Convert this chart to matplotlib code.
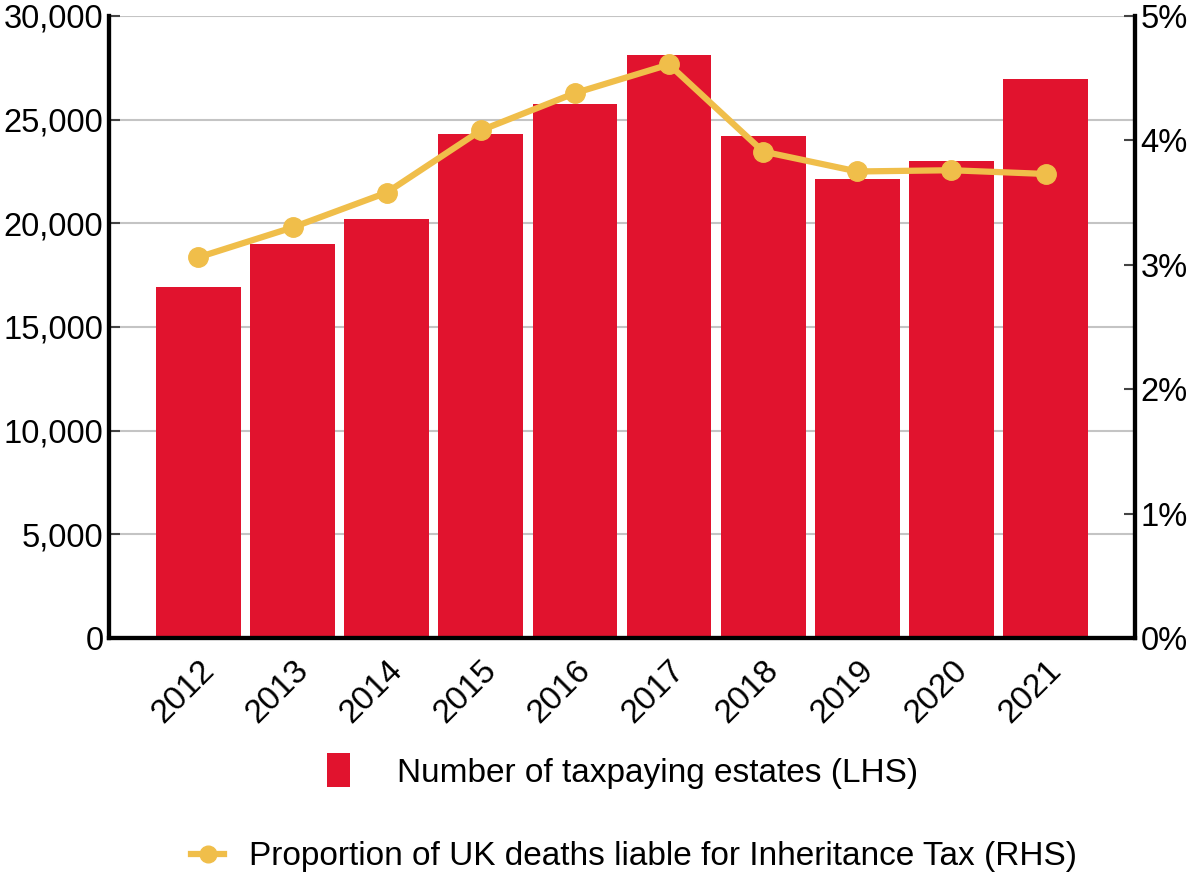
import numpy as np
import matplotlib.pyplot as plt
from matplotlib.lines import Line2D
from matplotlib.patches import Patch

plt.rcParams['font.family'] = ['Liberation Sans', 'DejaVu Sans']

years = ['2012', '2013', '2014', '2015', '2016', '2017', '2018', '2019', '2020', '2021']
estates = [16930, 19000, 20200, 24300, 25750, 28120, 24210, 22140, 23000, 26960]
share_pct = [3.06, 3.30, 3.58, 4.08, 4.38, 4.61, 3.91, 3.75, 3.76, 3.73]

red = '#E1132E'
gold = '#F0BE4A'

fig = plt.figure(figsize=(11.92, 8.77), dpi=100)
ax = fig.add_axes([0.0914, 0.2725, 0.8608, 0.7093])
x = np.arange(len(years))

ax.bar(x, estates, width=0.9, color=red, zorder=2)
ax.set_xlim(-0.95, 9.95)
ax.set_ylim(0, 30000)
ax.set_yticks(range(0, 30001, 5000))
ax.set_yticklabels([f'{v:,}' for v in range(0, 30001, 5000)])
ax.yaxis.grid(True, color='#C4C4C4', linewidth=1.5, zorder=0)
ax.set_axisbelow(True)
ax.set_xticks(x)
ax.set_xticklabels(years, rotation=45, ha='right', rotation_mode='anchor')
ax.tick_params(axis='y', direction='in', length=8, width=1.5, color='#444444',
               labelsize=23.5, pad=4)
ax.tick_params(axis='x', direction='in', length=6, width=1.5, color='#444444',
               labelsize=24, pad=12)

ax2 = ax.twinx()
ax2.plot(x, share_pct, color=gold, linewidth=4.5, marker='o', markersize=14, zorder=3)
ax2.set_ylim(0, 5)
ax2.set_yticks(range(0, 6))
ax2.set_yticklabels([f'{v}%' for v in range(0, 6)])
ax2.tick_params(axis='y', direction='in', length=8, width=1.5, color='#444444',
                labelsize=23.5, pad=4)

for a in (ax, ax2):
    a.spines['top'].set_visible(False)
    for side in ('left', 'right', 'bottom'):
        a.spines[side].set_linewidth(3)
        a.spines[side].set_color('black')

# legend rows, each one centred on its own
fig.legend(handles=[Patch(facecolor=red, edgecolor='none')],
           labels=['Number of taxpaying estates (LHS)'],
           loc='center', bbox_to_anchor=(0.522, 0.121), frameon=False,
           fontsize=24, handlelength=0.7, handleheight=1.2, handletextpad=1.4)
fig.legend(handles=[Line2D([], [], color=gold, linewidth=4.5, marker='o', markersize=12)],
           labels=['Proportion of UK deaths liable for Inheritance Tax (RHS)'],
           loc='center', bbox_to_anchor=(0.532, 0.023), frameon=False,
           fontsize=24, handlelength=1.0, handletextpad=0.75)

fig.savefig('out.png', dpi=100)
